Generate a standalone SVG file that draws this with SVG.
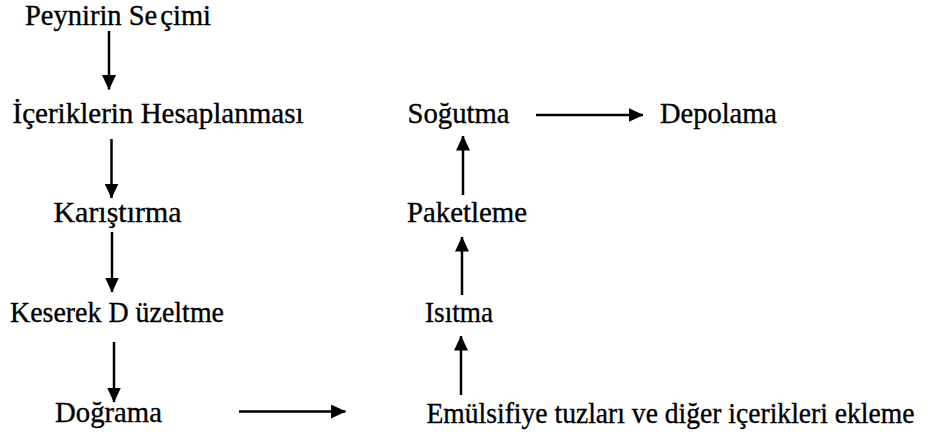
<svg xmlns="http://www.w3.org/2000/svg" width="949" height="435" viewBox="0 0 949 435">
<style>
.t{font-family:'Liberation Serif','Times New Roman',serif;font-size:28.5px;fill:#000;stroke:#000;stroke-width:0.35}
.c line{stroke:#000;stroke-width:2.5;fill:none}
</style>
<defs>
<marker id="ah" markerUnits="userSpaceOnUse" markerWidth="15" markerHeight="14" refX="14.5" refY="7" orient="auto">
<path d="M0,0 L15,7 L0,14 Z" fill="#000"/>
</marker>
</defs>
<rect width="949" height="435" fill="#fff"/>
<g class="t">
<g id="n1"><text x="25" y="24.5">Peynirin Se<tspan dx="-4"> çimi</tspan></text></g>
<g id="n2"><text x="12.5" y="122.5" textLength="291" lengthAdjust="spacingAndGlyphs">İçeriklerin Hesaplanması</text></g>
<g id="n3"><text x="53.5" y="222" textLength="128" lengthAdjust="spacingAndGlyphs">Karıştırma</text></g>
<g id="n4"><text x="10" y="322" textLength="214" lengthAdjust="spacingAndGlyphs">Keserek D üzeltme</text></g>
<g id="n5"><text x="55" y="422" textLength="107" lengthAdjust="spacingAndGlyphs">Doğrama</text></g>
<g id="n6"><text x="426.5" y="423" textLength="488" lengthAdjust="spacingAndGlyphs">Emülsifiye tuzları ve diğer içerikleri ekleme</text></g>
<g id="n7"><text x="425" y="322" textLength="68" lengthAdjust="spacingAndGlyphs">Isıtma</text></g>
<g id="n8"><text x="407" y="222" textLength="120" lengthAdjust="spacingAndGlyphs">Paketleme</text></g>
<g id="n9"><text x="407.5" y="123" textLength="102" lengthAdjust="spacingAndGlyphs">Soğutma</text></g>
<g id="n10"><text x="660" y="123" textLength="117" lengthAdjust="spacingAndGlyphs">Depolama</text></g>
</g>
<g class="c" id="connectors">
<line x1="109" y1="31" x2="109" y2="89.5" marker-end="url(#ah)"/>
<line x1="111.5" y1="139" x2="111.5" y2="198" marker-end="url(#ah)"/>
<line x1="112" y1="232" x2="112" y2="292" marker-end="url(#ah)"/>
<line x1="114" y1="342" x2="114" y2="402" marker-end="url(#ah)"/>
<line x1="239" y1="411.5" x2="345.5" y2="411.5" marker-end="url(#ah)"/>
<line x1="461" y1="395" x2="461" y2="336" marker-end="url(#ah)"/>
<line x1="462" y1="295" x2="462" y2="237" marker-end="url(#ah)"/>
<line x1="463" y1="195" x2="463" y2="136" marker-end="url(#ah)"/>
<line x1="536" y1="115" x2="643" y2="115" marker-end="url(#ah)"/>
</g>
</svg>
